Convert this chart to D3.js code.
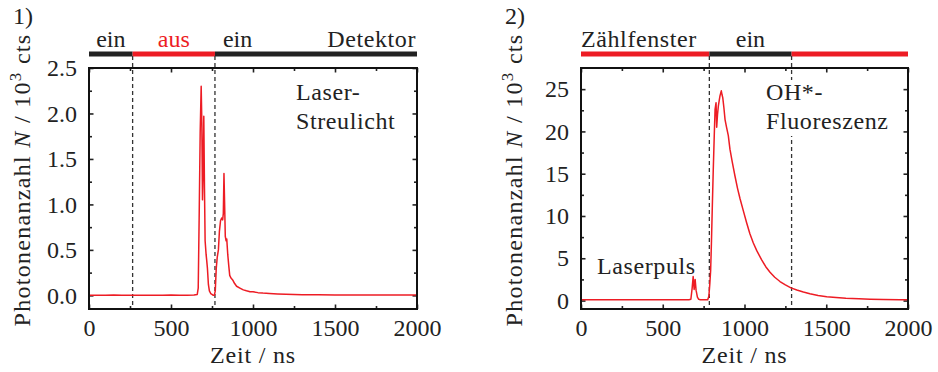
<!DOCTYPE html>
<html>
<head>
<meta charset="utf-8">
<script src="https://cdn.jsdelivr.net/npm/d3@7"></script>
</head>
<body style="margin:0; background:#fff">
<div class="graph"></div>
<script>
// panel 1: Laser-Streulicht (10^3 cts)
var time1 = [0, 50, 100, 150, 200, 250, 300, 350, 400, 450, 500, 550, 600, 640, 660, 666, 672, 678, 684, 688, 692, 696, 700, 704, 708, 714, 718, 722, 728, 734, 742, 750, 758, 764, 770, 776, 782, 789, 795, 802, 809, 815, 819, 823, 827, 831, 836, 840, 846, 852, 858, 866, 876, 888, 900, 920, 941, 960, 982, 1000, 1030, 1060, 1100, 1150, 1200, 1300, 1400, 1500, 1600, 1700, 1800, 1900, 2000]
var counts1 = [0.0, 0.002, 0.0, 0.003, 0.0, 0.002, 0.001, 0.0, 0.002, 0.0, 0.003, 0.001, 0.002, 0.003, 0.01, 0.08, 0.9, 1.8, 2.30, 1.9, 1.05, 1.4, 1.97, 1.2, 0.6, 0.45, 0.38, 0.3, 0.12, 0.05, 0.02, 0.01, 0.0, 0.0, 0.05, 0.3, 0.42, 0.5, 0.7, 0.82, 0.85, 0.83, 0.9, 1.34, 1.0, 0.65, 0.6, 0.62, 0.45, 0.33, 0.22, 0.19, 0.17, 0.13, 0.10, 0.08, 0.06, 0.05, 0.04, 0.04, 0.03, 0.025, 0.02, 0.015, 0.012, 0.008, 0.006, 0.005, 0.004, 0.005, 0.003, 0.004, 0.003]

// panel 2: OH*-Fluoreszenz (10^3 cts)
var time2 = [0, 100, 200, 300, 400, 500, 600, 660, 672, 680, 686, 692, 698, 704, 712, 720, 730, 760, 775, 782, 788, 793, 798, 803, 809, 815, 820, 826, 830, 835, 840, 845, 850, 858, 863, 867, 874, 881, 890, 901, 911, 925, 942, 957, 972, 993, 1013, 1033, 1054, 1075, 1105, 1130, 1156, 1185, 1217, 1250, 1284, 1320, 1360, 1400, 1450, 1503, 1560, 1620, 1700, 1768, 1850, 1950, 2000]
var counts2 = [0.1, 0.1, 0.1, 0.1, 0.1, 0.1, 0.1, 0.1, 0.15, 1.5, 2.84, 1.3, 2.5, 1.2, 0.4, 0.15, 0.1, 0.1, 0.1, 0.5, 2.0, 3.6, 7.0, 11.0, 15.5, 19.5, 22.6, 23.4, 20.5, 22.0, 23.0, 23.6, 24.2, 24.8, 24.3, 24.0, 22.8, 21.4, 20.5, 19.5, 17.9, 16.4, 14.7, 13.3, 12.1, 10.6, 9.2, 7.9, 6.8, 5.9, 4.8, 4.0, 3.35, 2.75, 2.25, 1.85, 1.5, 1.25, 1.0, 0.8, 0.6, 0.45, 0.35, 0.27, 0.2, 0.15, 0.12, 0.1, 0.1]

var xTicks = [0, 500, 1000, 1500, 2000]
var xMinor = [250, 750, 1250, 1750]
var yTicks1 = [0.0, 0.5, 1.0, 1.5, 2.0, 2.5]
var yMinor1 = [0.25, 0.75, 1.25, 1.75, 2.25]
var yTicks2 = [0, 5, 10, 15, 20, 25]
var yMinor2 = [2.5, 7.5, 12.5, 17.5, 22.5]

// detector / counting window bar: segment boundaries (ns) and state
var gates1 = [0, 266, 768, 2000]
var gateState1 = ["ein", "aus", "ein"]
var gates2 = [0, 785, 1288, 2000]
var gateState2 = ["aus", "ein", "aus"]

var red = "#ed1c24"
var dark = "#222"

var w = 938
var h = 372

var svg = d3.select(".graph")
  .append("svg")
  .attr("width", w)
  .attr("height", h)

// every text goes through here: serif face and size as inline style
var label = function(g, txt, xx, yy, anchor){
  return g.append("text")
    .attr("x", xx)
    .attr("y", yy)
    .attr("text-anchor", anchor || "start")
    .style("font-family", "serif")
    .style("font-size", "24px")
    .style("fill", dark)
    .text(txt)
}

var drawPanel = function(p){
  var x = d3.scaleLinear().domain([0, 2000]).range([p.left, p.right])
  var y = d3.scaleLinear().domain(p.yDomain).range([p.bottom, p.top])
  var g = svg.append("g")

  // top gate bar
  var segs = []
  for(i = 0; i < p.gates.length - 1; i++){
    segs.push({a: p.gates[i], b: p.gates[i+1], s: p.states[i]})
  }
  g.selectAll("rect.gate")
    .data(segs)
    .enter()
    .append("rect")
    .attr("class", "gate")
    .attr("x", function(d){ return x(d.a) })
    .attr("y", 51.5)
    .attr("width", function(d){ return x(d.b) - x(d.a) })
    .attr("height", 5)
    .attr("fill", function(d){ return d.s == "ein" ? dark : red })

  // dashed gate edges
  g.selectAll("line.edge")
    .data(p.gates.slice(1, -1))
    .enter()
    .append("line")
    .attr("x1", function(d){ return x(d) })
    .attr("x2", function(d){ return x(d) })
    .attr("y1", 56)
    .attr("y2", p.bottom)
    .attr("stroke", "#333")
    .attr("stroke-width", 1.3)
    .attr("stroke-dasharray", "4,3")

  // axes, inward ticks on all four sides
  var axes = [
    {ax: d3.axisBottom(x).tickValues(xTicks).tickSize(-4.5).tickFormat(d3.format("d")), t: "translate(0," + p.bottom + ")", lab: true},
    {ax: d3.axisBottom(x).tickValues(xMinor).tickSize(-3), t: "translate(0," + p.bottom + ")"},
    {ax: d3.axisTop(x).tickValues(xTicks).tickSize(-4.5), t: "translate(0," + p.top + ")"},
    {ax: d3.axisTop(x).tickValues(xMinor).tickSize(-3), t: "translate(0," + p.top + ")"},
    {ax: d3.axisLeft(y).tickValues(p.yTicks).tickSize(-4.5).tickFormat(p.fmt), t: "translate(" + p.left + ",0)", lab: true},
    {ax: d3.axisLeft(y).tickValues(p.yMinor).tickSize(-3), t: "translate(" + p.left + ",0)"},
    {ax: d3.axisRight(y).tickValues(p.yTicks).tickSize(-4.5), t: "translate(" + p.right + ",0)"},
    {ax: d3.axisRight(y).tickValues(p.yMinor).tickSize(-3), t: "translate(" + p.right + ",0)"}
  ]
  axes.forEach(function(a){
    var ag = g.append("g").attr("transform", a.t).call(a.ax)
    ag.attr("font-family", null).attr("font-size", null)
    ag.select(".domain").remove()
    ag.selectAll("line").attr("stroke", dark).attr("stroke-width", 1.6)
    if(!a.lab){
      ag.selectAll("text").remove()
    }
    ag.selectAll("text")
      .style("font-family", "serif")
      .style("font-size", "24px")
      .style("fill", dark)
  })
  g.selectAll(".tick text").each(function(){
    var t = d3.select(this)
    if(t.attr("y") !== null && +t.attr("y") > 0){ t.attr("y", 10) }
    if(t.attr("x") !== null && +t.attr("x") < 0){ t.attr("x", -12) }
  })

  // curve
  var pts = p.time.map(function(d, i){ return [d, p.counts[i]] })
  g.append("path")
    .datum(pts)
    .attr("fill", "none")
    .attr("stroke", red)
    .attr("stroke-width", 1.5)
    .attr("stroke-linejoin", "round")
    .attr("d", d3.line().x(function(d){ return x(d[0]) }).y(function(d){ return y(d[1]) }))

  // frame
  g.append("rect")
    .attr("x", p.left)
    .attr("y", p.top)
    .attr("width", p.right - p.left)
    .attr("height", p.bottom - p.top)
    .attr("fill", "none")
    .attr("stroke", "#111")
    .attr("stroke-width", 2)

  // labels
  label(g, p.num, p.left - 76, 24)
  label(g, "Zeit / ns", (p.left + p.right) / 2, 363, "middle")
    .style("letter-spacing", "0.8px")

  var yl = label(g, "", 0, 0, "middle")
    .attr("transform", "translate(" + (p.left - 59) + ",180) rotate(-90)")
    .style("letter-spacing", "1.3px")
  yl.append("tspan").text("Photonenanzahl ")
  yl.append("tspan").style("font-style", "italic").text("N")
  yl.append("tspan").text(" / 10")
  yl.append("tspan").style("font-size", "17px").attr("dy", -9).text("3")
  yl.append("tspan").attr("dy", 9).text(" cts")

  p.extra(g, x, y)
}

drawPanel({
  left: 89, right: 417, top: 68, bottom: 309,
  yDomain: [-0.15, 2.5], yTicks: yTicks1, yMinor: yMinor1, fmt: d3.format(".1f"),
  time: time1, counts: counts1, gates: gates1, states: gateState1, num: "1)",
  extra: function(g, x, y){
    label(g, "ein", (x(gates1[0]) + x(gates1[1])) / 2, 47, "middle")
    label(g, "aus", (x(gates1[1]) + x(gates1[2])) / 2, 47, "middle").style("fill", red)
    label(g, "ein", x(gates1[2]) + 8, 47)
    label(g, "Detektor", 416, 47, "end").style("letter-spacing", "0.6px")
    label(g, "Laser-", 296, 100).style("letter-spacing", "0.6px")
    label(g, "Streulicht", 296, 129).style("letter-spacing", "0.6px")
  }
})

drawPanel({
  left: 581, right: 908, top: 68, bottom: 309,
  yDomain: [-1, 27.5], yTicks: yTicks2, yMinor: yMinor2, fmt: d3.format("d"),
  time: time2, counts: counts2, gates: gates2, states: gateState2, num: "2)",
  extra: function(g, x, y){
    label(g, "Zählfenster", 581, 47).style("letter-spacing", "0.6px")
    label(g, "ein", (x(gates2[1]) + x(gates2[2])) / 2, 47, "middle")
    g.append("rect").attr("x", 762).attr("y", 80).attr("width", 130).attr("height", 56)
      .attr("fill", "#fff")
    label(g, "OH*-", 766, 100).style("letter-spacing", "0.6px")
    label(g, "Fluoreszenz", 766, 129).style("letter-spacing", "0.6px")
    label(g, "Laserpuls", 597, 274).style("letter-spacing", "0.6px")
  }
})
</script>
</body>
</html>
